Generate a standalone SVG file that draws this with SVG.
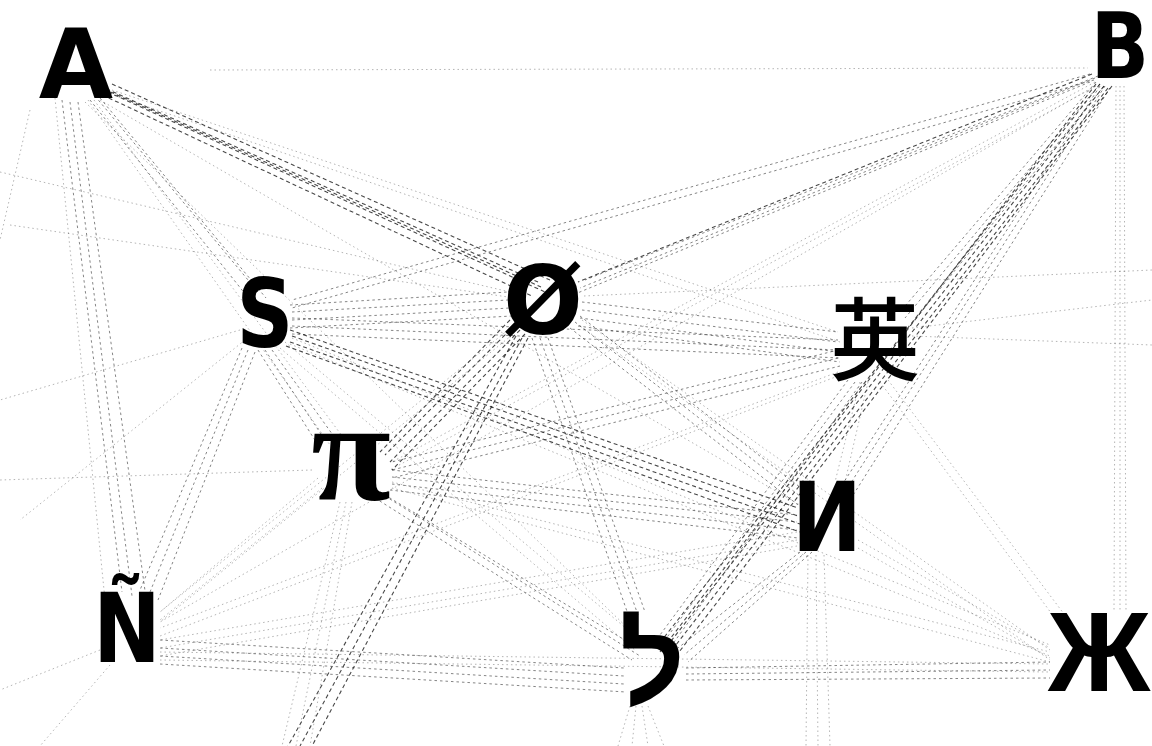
<svg xmlns="http://www.w3.org/2000/svg" width="1152" height="746" viewBox="0 0 1152 746">
<style>
.n{font-family:"DejaVu Sans","Noto Sans CJK SC",sans-serif;font-weight:bold;fill:#000;text-anchor:middle}
.ser{font-family:"Liberation Serif","DejaVu Serif",serif;font-weight:bold;fill:#000;text-anchor:middle}
.las{font-family:"Liberation Sans","DejaVu Sans",sans-serif;font-weight:bold;fill:#000;text-anchor:middle}
.cjk{font-family:"Noto Sans CJK SC","Noto Sans CJK JP",sans-serif;font-weight:500;fill:#000;text-anchor:middle}
.c1{fill:none;stroke:#000;stroke-width:1.1;stroke-dasharray:4 3;opacity:.72}
.c2{fill:none;stroke:#222;stroke-width:.9;stroke-dasharray:2.5 3;opacity:.62}
.c3{fill:none;stroke:#444;stroke-width:.8;stroke-dasharray:1.5 3;opacity:.5}
</style>
<rect width="1152" height="746" fill="#fff"/>
<g id="connectors">
<path class="c1" d="M100 86 L538 282 M104 89 L541 287 M108 92 L545 292 M96 92 L532 296 M112 84 L550 280"/>
<path class="c2" d="M95 96 L258 292 M100 98 L266 298 M90 100 L250 300"/>
<path class="c2" d="M62 100 L122 592 M70 102 L132 596 M78 102 L146 598"/>
<path class="c3" d="M55 98 L105 600 M88 100 L330 445 M94 100 L345 440 M112 90 L838 332 M110 94 L840 342 M100 100 L800 505 M85 102 L640 640 M210 70 L1088 68 M0 172 L510 292 M10 225 L515 298 M30 110 L0 240"/>
<path class="c1" d="M1092 74 L578 282"/>
<path class="c2" d="M1095 78 L580 288 M1090 82 L575 294 M1098 76 L585 280"/>
<path class="c2" d="M1090 74 L292 300 M1094 80 L292 308"/>
<path class="c3" d="M1095 82 L392 462 M1100 84 L390 470"/>
<path class="c2" d="M1100 84 L905 318 M1104 86 L910 326 M1096 82 L900 312"/>
<path class="c2" d="M1105 86 L845 492 M1110 88 L850 500 M1100 86 L840 488"/>
<path class="c1" d="M1100 84 L662 640 M1104 86 L668 645 M1108 88 L672 650 M1112 86 L676 656 M1096 84 L660 652"/>
<path class="c3" d="M1116 86 L1114 610 M1120 86 L1120 612 M1124 86 L1126 612 M1095 86 L160 622"/>
<path class="c2" d="M290 305 L508 292 M292 312 L508 300 M292 320 L510 308 M290 328 L512 316"/>
<path class="c2" d="M292 318 L838 340 M292 326 L838 350 M292 334 L840 358"/>
<path class="c2" d="M265 350 L325 440 M272 350 L335 438 M258 350 L318 445"/>
<path class="c1" d="M290 330 L798 508 M292 336 L798 516 M290 342 L800 524 M286 346 L800 532"/>
<path class="c2" d="M248 350 L150 592 M255 352 L158 600 M242 348 L140 590"/>
<path class="c3" d="M285 342 L640 640 M280 348 L635 650 M292 338 L1050 645 M290 344 L1050 656 M240 330 L0 400 M245 340 L20 520"/>
<path class="c2" d="M582 302 L838 332 M582 310 L838 342 M580 318 L838 352 M578 326 L840 362"/>
<path class="c1" d="M515 325 L385 455 M520 330 L390 462 M525 334 L392 470 M510 320 L380 452"/>
<path class="c2" d="M575 322 L805 500 M570 328 L802 508 M580 316 L810 495"/>
<path class="c2" d="M540 338 L638 615 M548 338 L645 612 M532 338 L630 620"/>
<path class="c3" d="M508 330 L160 612 M512 335 L160 622 M582 320 L1050 650 M580 326 L1050 660 M584 296 L1152 270"/>
<path class="c1" d="M522 338 L300 746 M528 338 L312 746 M516 336 L288 746"/>
<path class="c2" d="M838 350 L392 462 M838 358 L392 470 M840 366 L392 478"/>
<path class="c2" d="M855 382 L665 640 M862 382 L672 645 M848 380 L660 635"/>
<path class="c3" d="M860 382 L835 482 M868 382 L845 482 M880 382 L1060 625 M888 380 L1070 622 M838 372 L160 628 M838 376 L160 636 M912 328 L1152 300 M912 336 L1152 345"/>
<path class="c2" d="M392 470 L797 515 M392 477 L797 522 M392 484 L797 530 M390 490 L798 538"/>
<path class="c2" d="M380 492 L638 648 M385 496 L640 656 M375 498 L632 660"/>
<path class="c3" d="M318 478 L160 612 M322 488 L160 620 M392 482 L1050 652 M392 488 L1050 662 M340 502 L282 746 M346 502 L296 746 M352 502 L310 746 M312 470 L0 480"/>
<path class="c2" d="M800 552 L678 648 M806 552 L684 655 M812 552 L688 662"/>
<path class="c3" d="M797 532 L160 640 M797 540 L160 648 M797 546 L160 656 M858 540 L1050 648 M858 548 L1050 658 M808 555 L806 746 M816 555 L818 746 M824 555 L830 746"/>
<path class="c2" d="M160 640 L624 668 M160 648 L624 676 M160 656 L624 684 M160 664 L626 692"/>
<path class="c3" d="M160 652 L1050 664 M160 660 L1050 672 M100 650 L0 690 M110 665 L40 746"/>
<path class="c2" d="M686 668 L1050 662 M686 674 L1050 670 M686 680 L1050 678"/>
<path class="c3" d="M630 706 L618 746 M636 706 L632 746 M642 706 L648 746 M648 706 L664 746"/>
</g>
<g id="node-A"><text class="n" x="76" y="98" font-size="96">A</text></g>
<g id="node-B"><text class="n" transform="translate(1120 78) scale(0.85 1)" font-size="90">B</text></g>
<g id="node-S"><text class="n" transform="translate(265 347) scale(0.84 1)" font-size="94">S</text></g>
<g id="node-O"><text class="n" x="543" y="334" font-size="94">Ø</text></g>
<g id="node-ying"><text class="cjk" x="875" y="373" font-size="90">英</text></g>
<g id="node-pi"><text class="ser" x="351" y="500" font-size="145">π</text></g>
<g id="node-I"><text class="n" transform="translate(827 551) scale(0.87 1)" font-size="96">И</text></g>
<g id="node-N"><text class="n" transform="translate(127 662) scale(0.84 1)" font-size="96">Ñ</text></g>
<g id="node-lamed"><text class="las" x="652" y="704" font-size="114">ל</text></g>
<g id="node-Zh"><text class="las" x="1099" y="691" font-size="113">Ж</text></g>
</svg>
